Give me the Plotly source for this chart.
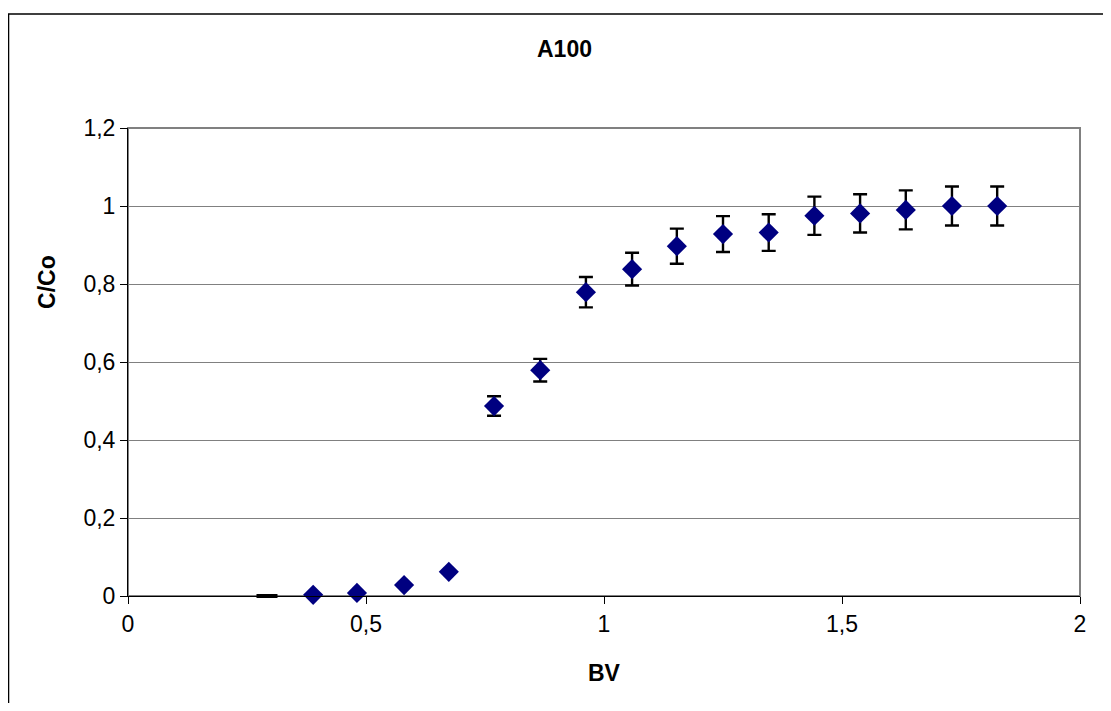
import plotly.graph_objects as go

# Data
bv_zero = [0.292]
c_zero = [0.0]

bv = [0.389, 0.481, 0.580, 0.674, 0.769, 0.866, 0.962, 1.059, 1.153, 1.250,
      1.346, 1.442, 1.538, 1.634, 1.731, 1.826]
c_co = [0.003, 0.008, 0.028, 0.062, 0.487, 0.579, 0.779, 0.838, 0.897, 0.928,
        0.932, 0.975, 0.981, 0.990, 1.000, 1.000]
err = [0.0002, 0.0004, 0.0014, 0.003, 0.025, 0.029, 0.039, 0.042, 0.045, 0.046,
       0.047, 0.049, 0.049, 0.050, 0.050, 0.050]

x_ticks = [0, 0.5, 1, 1.5, 2]
y_ticks = [0, 0.2, 0.4, 0.6, 0.8, 1, 1.2]

FONT = "Liberation Sans, Arial, sans-serif"
FS = 23

fig = go.Figure()

fig.add_trace(go.Scatter(
    x=bv_zero, y=c_zero, mode="markers", cliponaxis=False,
    marker=dict(symbol="line-ew", size=15, color="black",
                line=dict(color="black", width=4)),
    showlegend=False))

fig.add_trace(go.Scatter(
    x=bv, y=c_co, mode="markers", cliponaxis=False,
    marker=dict(symbol="diamond", size=15.5, color="#000080",
                line=dict(width=0)),
    error_y=dict(type="data", array=err, visible=True, color="black",
                 thickness=2.4, width=7),
    showlegend=False))

fig.update_layout(
    width=1095, height=695,
    margin=dict(l=120, r=23, t=120, b=107),
    paper_bgcolor="white", plot_bgcolor="white",
    separators=",.",
    font=dict(family=FONT, size=FS, color="black"),
    showlegend=False,
    xaxis=dict(range=[0, 2], tickvals=x_ticks, ticks="outside", ticklen=7,
               tickcolor="black", showline=True, linecolor="black", linewidth=1,
               showgrid=False, zeroline=False,
               tickfont=dict(family=FONT, size=FS, color="black")),
    yaxis=dict(range=[0, 1.2], tickvals=y_ticks, ticks="outside", ticklen=7,
               tickcolor="black", showline=True, linecolor="black", linewidth=1,
               showgrid=True, gridcolor="#808080", gridwidth=1,
               zeroline=False,
               tickfont=dict(family=FONT, size=FS, color="black")),
    shapes=[
        dict(type="rect", xref="paper", yref="paper", x0=0, x1=1, y0=0, y1=1,
             line=dict(color="#808080", width=2), layer="below"),
        dict(type="path", xref="paper", yref="paper",
             path="M -0.1255,-0.3 L -0.1255,1.2436 L 1.2,1.2436",
             line=dict(color="black", width=1.5), layer="below"),
    ],
    annotations=[
        dict(text="<b>A100</b>", xref="paper", yref="paper", x=0.458, y=1.1688,
             showarrow=False, font=dict(family=FONT, size=FS, color="black"),
             xanchor="center", yanchor="middle"),
        dict(text="<b>BV</b>", xref="paper", yref="paper", x=0.501, y=-0.1645,
             showarrow=False, font=dict(family=FONT, size=FS, color="black"),
             xanchor="center", yanchor="middle"),
        dict(text="<b>C/Co</b>", xref="paper", yref="paper", x=-0.0851, y=0.671,
             showarrow=False, textangle=-90,
             font=dict(family=FONT, size=FS, color="black"),
             xanchor="center", yanchor="middle"),
    ],
)

fig.write_html("out.html")
